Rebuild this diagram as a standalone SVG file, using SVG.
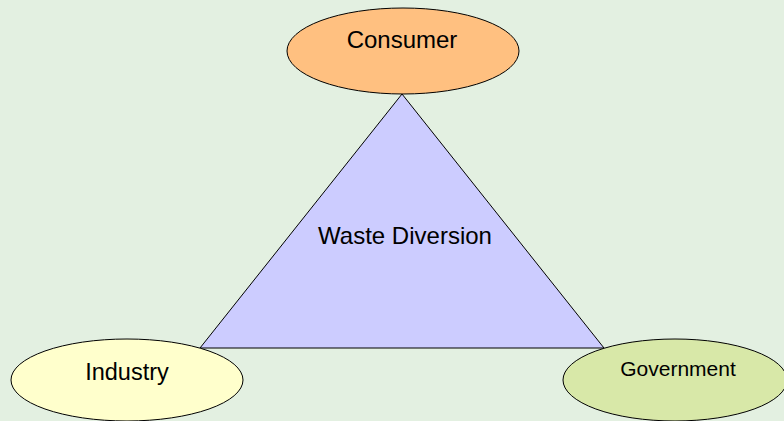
<svg xmlns="http://www.w3.org/2000/svg" width="784" height="421" viewBox="0 0 784 421">
<style>
.shape{stroke:#000;stroke-width:1}
.lbl{font-family:"Liberation Sans",Arial,sans-serif;fill:#000;text-anchor:middle}
</style>
<rect x="0" y="0" width="784" height="421" fill="#e3f0e1"/>
<g id="connectors"></g>
<g id="waste-diversion">
<polygon class="shape" points="402,94 200,348 604,348" fill="#ccccff"/>
<text class="lbl" x="405" y="244" font-size="24">Waste Diversion</text>
</g>
<g id="consumer">
<ellipse class="shape" cx="403" cy="51" rx="116" ry="43" fill="#ffc080"/>
<text class="lbl" x="402" y="48" font-size="24">Consumer</text>
</g>
<g id="industry">
<ellipse class="shape" cx="127" cy="380" rx="116" ry="41" fill="#ffffcc"/>
<text class="lbl" x="127" y="380" font-size="23.5">Industry</text>
</g>
<g id="government">
<ellipse class="shape" cx="675" cy="380" rx="112" ry="41" fill="#d8e8a8"/>
<text class="lbl" x="678" y="376" font-size="21">Government</text>
</g>
</svg>
